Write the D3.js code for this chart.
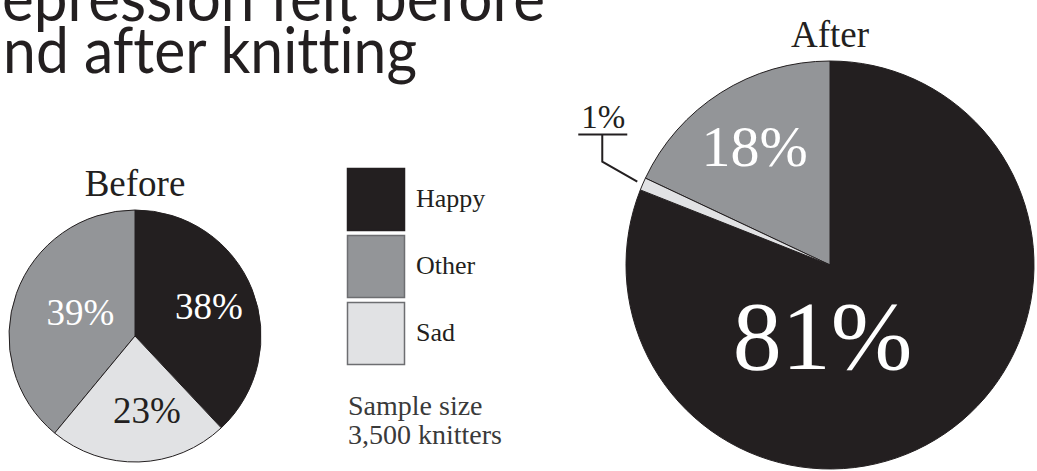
<!DOCTYPE html>
<html lang="en">
<head>
<meta charset="utf-8">
<title>Depression felt before and after knitting</title>
<script src="https://d3js.org/d3.v7.min.js"></script>
<style>
    body { margin: 0; background: #fff; }
    svg { display: block; }
    .title { font-family: "Lato", "Open Sans", sans-serif; font-size: 63px; fill: #231f20; font-variant-ligatures: none; }
    .serif { font-family: "Liberation Serif", "DejaVu Serif", serif; }
</style>
</head>
<body>
<div id="chart"></div>
<script>

// data
const categories = ["Happy", "Other", "Sad"];
const beforeValues = [38, 39, 23];
const afterValues = [81, 18, 1];
const sliceOrder = ["Happy", "Sad", "Other"];   // clockwise from 12 o'clock
const titleLines = ["Depression felt before", "and after knitting"];
const noteLines = ["Sample size", "3,500 knitters"];

const colors = { Happy: "#231f20", Other: "#939598", Sad: "#e1e2e4" };
const labelColors = { Happy: "#fff", Other: "#fff", Sad: "#231f20" };

const width = 1037, height = 471;

const svg = d3.select("#chart").append("svg")
    .attr("width", width)
    .attr("height", height);

// title, cut off at the top-left like the original.
// the original face is narrower than Lato: squeeze each line so the part
// left of the cut spans the same width as in the picture
const titleFit = [
    {visible: 1, x0: 2, x1: 545, y: 21},
    {visible: 1, x0: 3, x1: 417, y: 73}
];
titleLines.forEach((line, i) => {
    const fit = titleFit[i];
    const g = svg.append("g");
    const probe = g.append("text").attr("class", "title").text(line.slice(fit.visible));
    const sx = (fit.x1 - fit.x0) / probe.node().getComputedTextLength();
    probe.remove();
    g.attr("transform", "translate(" + fit.x1 + "," + fit.y + ") scale(" + sx + ",1)");
    g.append("text")
        .attr("class", "title")
        .attr("text-anchor", "end")
        .text(line);
});

const pie = d3.pie()
    .value(d => d.value)
    .sort((a, b) => sliceOrder.indexOf(a.cat) - sliceOrder.indexOf(b.cat));

function DrawPie(opts) {
    const data = categories.map((c, i) => ({cat: c, value: opts.values[i]}));
    const arcs = pie(data);
    const g = svg.append("g")
        .attr("transform", "translate(" + opts.cx + "," + opts.cy + ")");

    const arc = d3.arc().innerRadius(0).outerRadius(opts.r);

    g.selectAll("path")
        .data(arcs)
        .join("path")
        .attr("d", arc)
        .attr("fill", d => colors[d.data.cat])
        .attr("stroke", "#231f20")
        .attr("stroke-width", 1);

    g.append("text")
        .attr("class", "serif")
        .attr("text-anchor", "middle")
        .attr("y", -opts.r - 14)
        .attr("font-size", 37)
        .attr("fill", "#231f20")
        .text(opts.name);

    arcs.forEach(a => {
        const lay = opts.labels[a.data.cat];
        if (!lay) return;
        const mid = lay.a != null ? lay.a * Math.PI / 180 : (a.startAngle + a.endAngle) / 2;
        const dist = lay.f * opts.r;
        g.append("text")
            .attr("class", "serif")
            .attr("text-anchor", "middle")
            .attr("dominant-baseline", "central")
            .attr("x", Math.sin(mid) * dist)
            .attr("y", -Math.cos(mid) * dist)
            .attr("font-size", lay.size)
            .attr("fill", labelColors[a.data.cat])
            .text(a.data.value + "%");
    });

    if (opts.callout) {
        const a = arcs.find(d => d.data.cat == opts.callout.cat);
        const mid = (a.startAngle + a.endAngle) / 2;
        const sx = Math.sin(mid) * (opts.r + 6), sy = -Math.cos(mid) * (opts.r + 6);
        const ex = sx + opts.callout.dx, ey = sy + opts.callout.dy;
        const ty = ey - opts.callout.rise;
        g.append("path")
            .attr("d", d3.line()([[sx, sy], [ex, ey], [ex, ty]]))
            .attr("fill", "none")
            .attr("stroke", "#231f20")
            .attr("stroke-width", 2);
        g.append("line")
            .attr("x1", ex - 24).attr("x2", ex + 25)
            .attr("y1", ty).attr("y2", ty)
            .attr("stroke", "#231f20")
            .attr("stroke-width", 2);
        g.append("text")
            .attr("class", "serif")
            .attr("text-anchor", "middle")
            .attr("x", ex + 1)
            .attr("y", ty - 7)
            .attr("font-size", 33)
            .attr("fill", "#231f20")
            .text(a.data.value + "%");
    }
}

DrawPie({
    name: "Before", values: beforeValues, cx: 135, cy: 336, r: 126,
    labels: {
        Happy: {f: 0.63, size: 37},
        Other: {f: 0.47, a: 293, size: 37},
        Sad: {f: 0.6, a: 171, size: 37}
    }
});

DrawPie({
    name: "After", values: afterValues, cx: 830, cy: 265, r: 204,
    labels: {
        Happy: {f: 0.35, a: 186, size: 98},
        Other: {f: 0.69, size: 58}
    },
    callout: {cat: "Sad", dx: -35, dy: -20, rise: 27}
});

// legend
const legend = svg.append("g").attr("transform", "translate(347,168)");
const rows = legend.selectAll("g")
    .data(categories)
    .join("g")
    .attr("transform", (d, i) => "translate(0," + i * 67 + ")");

rows.append("rect")
    .attr("x", 0.5).attr("y", 0.5)
    .attr("width", 57).attr("height", 62)
    .attr("fill", d => colors[d])
    .attr("stroke", d => d == "Happy" ? "#231f20" : "#6d6e71")
    .attr("stroke-width", 1.5);

rows.append("text")
    .attr("class", "serif")
    .attr("x", 69)
    .attr("y", 39)
    .attr("font-size", 26)
    .attr("fill", "#231f20")
    .text(d => d);

svg.append("text")
    .attr("class", "serif")
    .attr("x", 348)
    .attr("font-size", 28)
    .attr("fill", "#3a3a3a")
    .selectAll("tspan")
    .data(noteLines)
    .join("tspan")
    .attr("x", 348)
    .attr("y", (d, i) => 415 + i * 29)
    .text(d => d);

</script>
</body>
</html>
